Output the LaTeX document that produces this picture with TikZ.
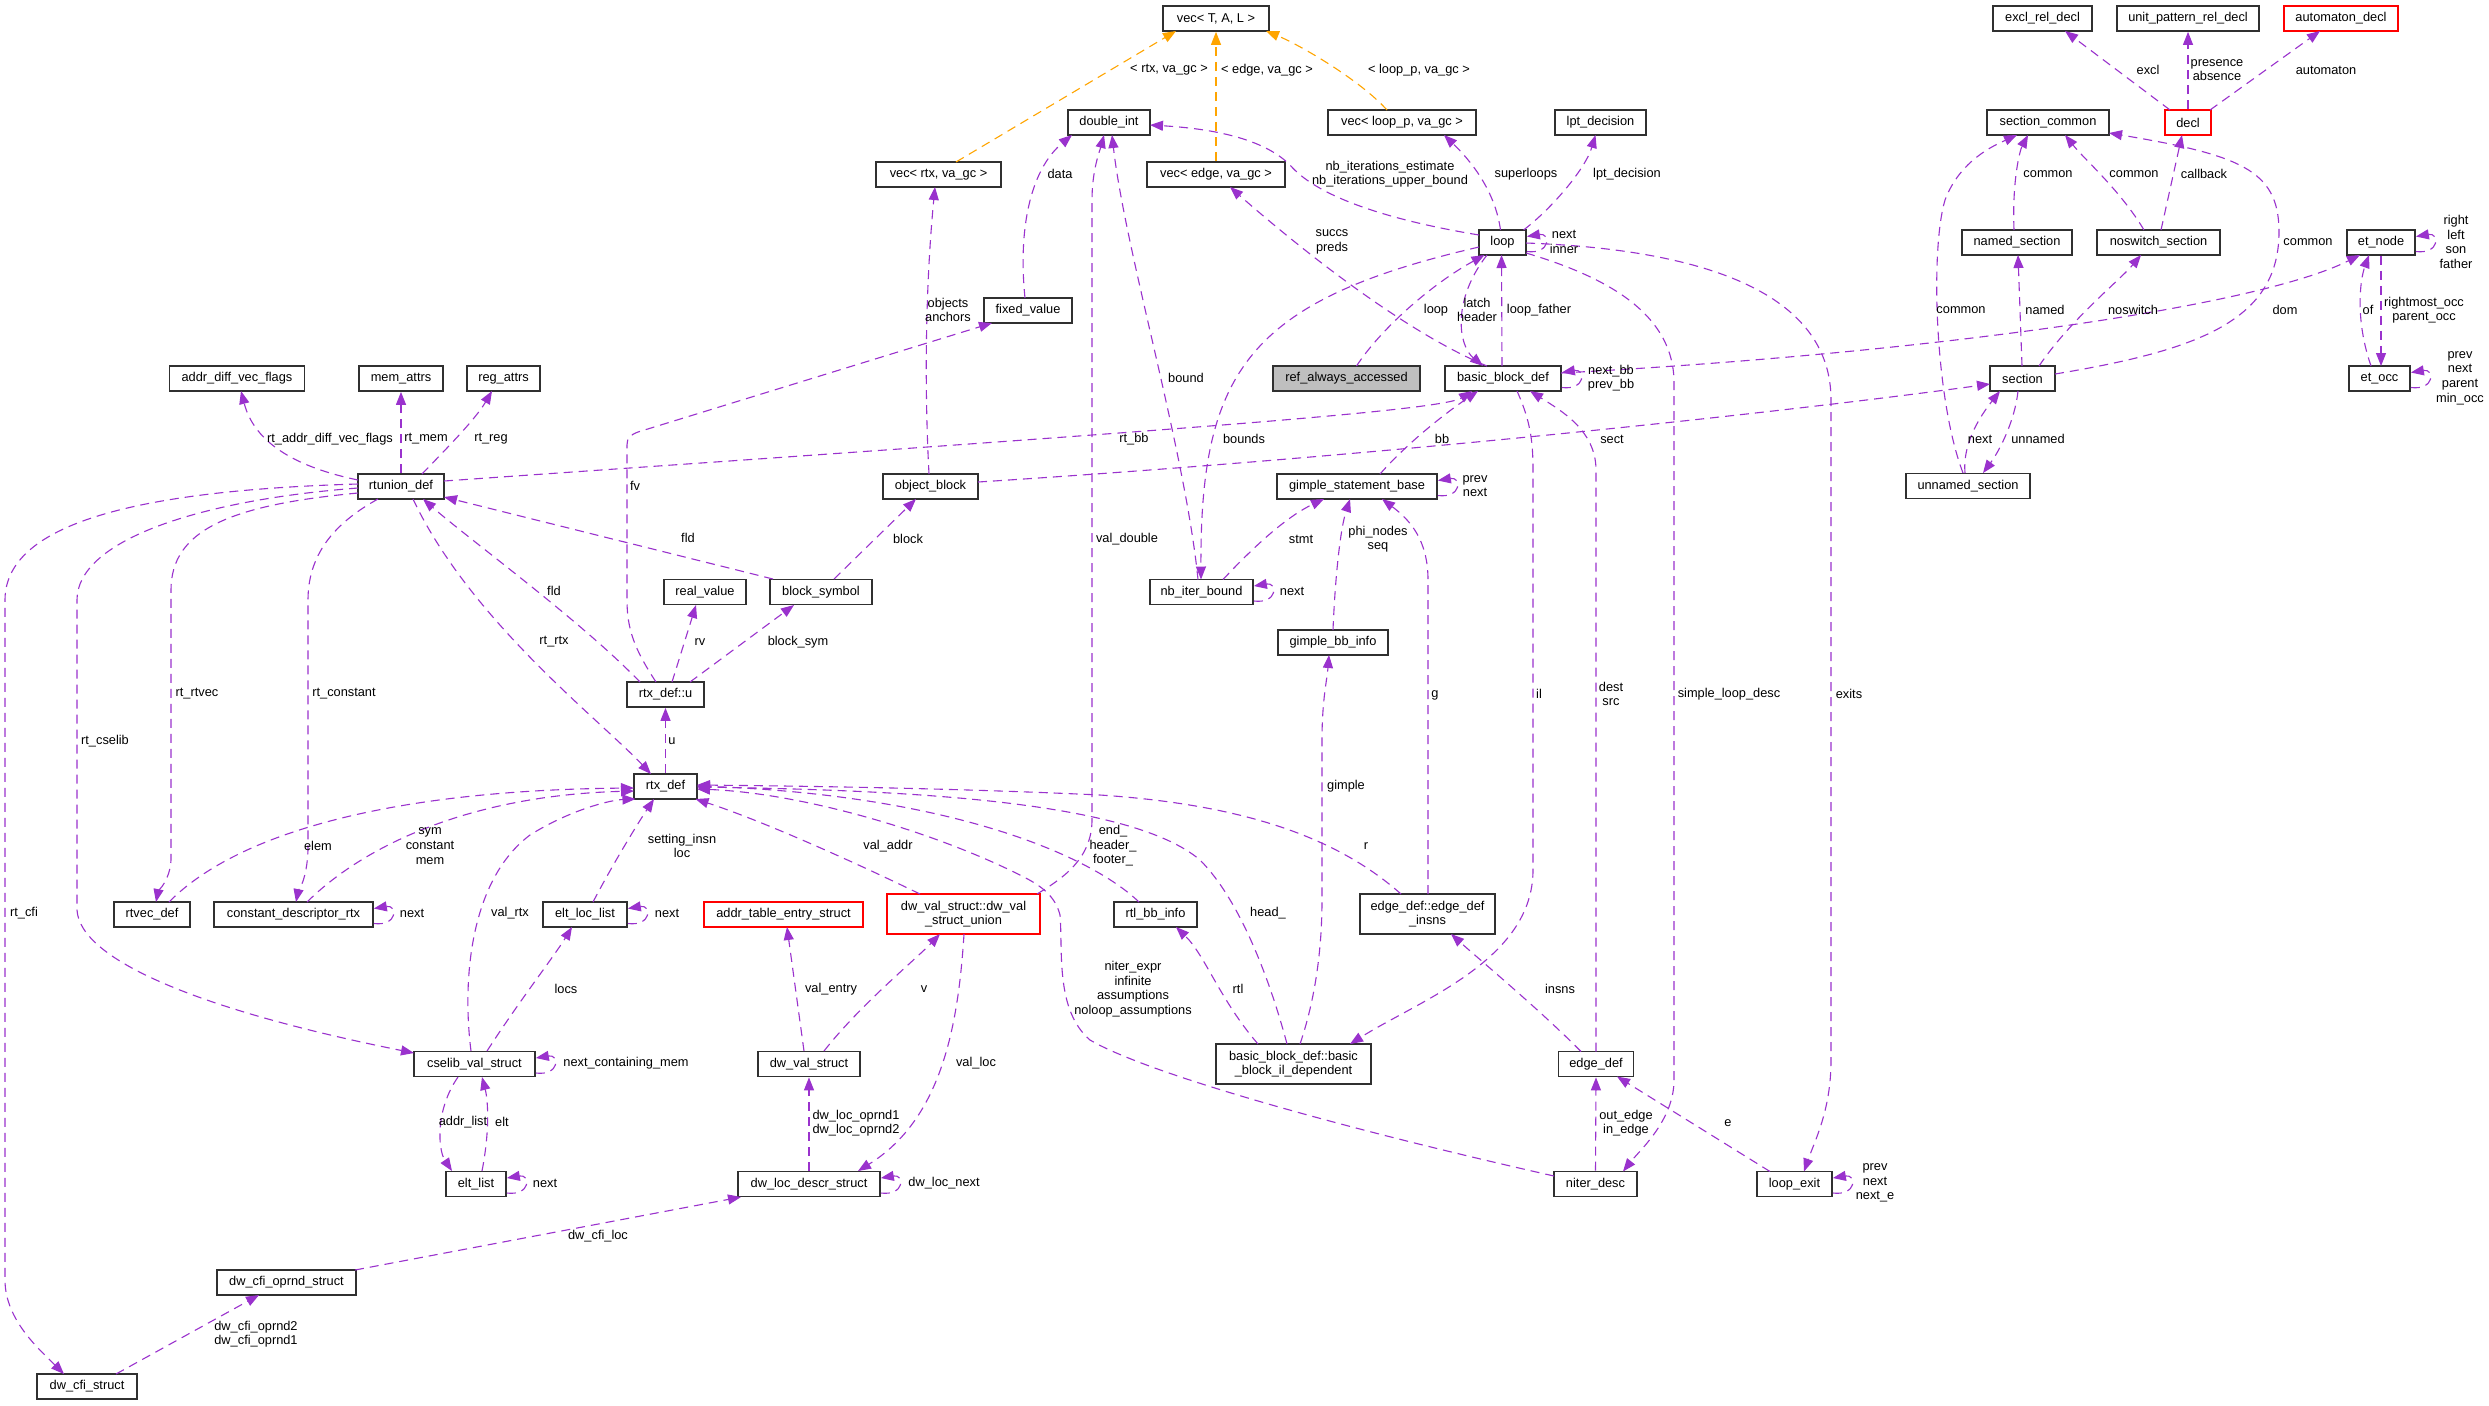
\documentclass[tikz,border=0pt]{standalone}
\usepackage{fontspec}
\setmainfont{Liberation Sans}
\usetikzlibrary{arrows.meta,calc}
\definecolor{purp}{HTML}{9A32CD}
\definecolor{orng}{HTML}{FFA500}
\definecolor{bdr}{HTML}{303030}
\definecolor{redb}{HTML}{FF0000}
\definecolor{grayf}{HTML}{BFBFBF}
\tikzset{
 cls/.style={draw=bdr, fill=white, line width=0.85pt, minimum height=12.5pt, inner sep=0pt, font=\fontsize{6.4}{7.3}\selectfont, align=center},
 wd/.style={minimum width=#1*0.5pt},
 tall/.style={minimum height=20pt},
 redc/.style={draw=redb},
 rel/.style={draw=purp, line width=0.55pt, dash pattern=on 4.5pt off 3pt, -{Triangle[length=6.5pt,width=5pt]}},
 tmpl/.style={rel, draw=orng},
 lbl/.style={font=\fontsize{6.4}{7.3}\selectfont, inner sep=0pt, align=center},
}
\begin{document}
\begin{tikzpicture}[x=0.5pt,y=-0.5pt]
\fill[white] (0,0) rectangle (2489,1405);
\useasboundingbox (0,0) rectangle (2489,1405);
% ---------- nodes ----------
\node[cls,wd=106] (vecT) at (1216,18.5) {vec< T, A, L >};
\node[cls,wd=82] (dint) at (1109,122.5) {double\_int};
\node[cls,wd=148] (veclp) at (1402,122.5) {vec< loop\_p, va\_gc >};
\node[cls,wd=91] (lpt) at (1600.5,122.5) {lpt\_decision};
\node[cls,wd=125] (vecrtx) at (938.5,174.5) {vec< rtx, va\_gc >};
\node[cls,wd=138] (vecedge) at (1216,174.5) {vec< edge, va\_gc >};
\node[cls,wd=88] (fixed) at (1028,310.5) {fixed\_value};
\node[cls,wd=47] (loop) at (1502.5,242.5) {loop};
\node[cls,wd=147,fill=grayf] (ref) at (1346.5,378.5) {ref\_always\_accessed};
\node[cls,wd=116] (bbd) at (1503,378.5) {basic\_block\_def};
\node[cls,wd=99] (excl) at (2042.5,18.5) {excl\_rel\_decl};
\node[cls,wd=142] (unitp) at (2188,18.5) {unit\_pattern\_rel\_decl};
\node[cls,wd=114,redc] (autom) at (2341,18.5) {automaton\_decl};
\node[cls,wd=122] (seccom) at (2048,122.5) {section\_common};
\node[cls,wd=46,redc] (decl) at (2188,122.5) {decl};
\node[cls,wd=110] (named) at (2017,242.5) {named\_section};
\node[cls,wd=123] (noswitch) at (2158.5,242.5) {noswitch\_section};
\node[cls,wd=68] (etnode) at (2381,242.5) {et\_node};
\node[cls,wd=65] (section) at (2022.5,378.5) {section};
\node[cls,wd=61] (etocc) at (2379.5,378.5) {et\_occ};
\node[cls,wd=124] (unnamed) at (1968,486) {unnamed\_section};
\node[cls,wd=135] (addrdiff) at (237,378.5) {addr\_diff\_vec\_flags};
\node[cls,wd=84] (memattrs) at (401,378.5) {mem\_attrs};
\node[cls,wd=73] (regattrs) at (503.5,378.5) {reg\_attrs};
\node[cls,wd=86] (rtunion) at (401,486.5) {rtunion\_def};
\node[cls,wd=82] (realval) at (705,592) {real\_value};
\node[cls,wd=102] (blocksym) at (821,592) {block\_symbol};
\node[cls,wd=77] (rtxu) at (665.5,694.5) {rtx\_def::u};
\node[cls,wd=63] (rtx) at (665.5,786.5) {rtx\_def};
\node[cls,wd=76] (rtvec) at (152,914.5) {rtvec\_def};
\node[cls,wd=159] (constdesc) at (293.5,914.5) {constant\_descriptor\_rtx};
\node[cls,wd=84] (eltloc) at (585,914.5) {elt\_loc\_list};
\node[cls,wd=159,redc] (addrtab) at (783.5,914.5) {addr\_table\_entry\_struct};
\node[cls,wd=95] (objblock) at (930.5,486.5) {object\_block};
\node[cls,wd=160] (gsb) at (1357,486.5) {gimple\_statement\_base};
\node[cls,wd=103] (nbiter) at (1201.5,592) {nb\_iter\_bound};
\node[cls,wd=110] (gbbinfo) at (1333,642.5) {gimple\_bb\_info};
\node[cls,wd=153,tall,redc] (dwunion) at (963.5,914) {dw\_val\_struct::dw\_val\\\_struct\_union};
\node[cls,wd=83] (rtlbb) at (1155.5,914.5) {rtl\_bb\_info};
\node[cls,wd=135,tall] (edgeins) at (1427.5,914) {edge\_def::edge\_def\\\_insns};
\node[cls,wd=121] (cselib) at (474.5,1064) {cselib\_val\_struct};
\node[cls,wd=60] (eltlist) at (476,1184) {elt\_list};
\node[cls,wd=102] (dwval) at (809,1064) {dw\_val\_struct};
\node[cls,wd=142] (dwloc) at (809,1184) {dw\_loc\_descr\_struct};
\node[cls,wd=139] (cfiop) at (286.5,1282.5) {dw\_cfi\_oprnd\_struct};
\node[cls,wd=100] (cfi) at (87,1386.5) {dw\_cfi\_struct};
\node[cls,wd=155,tall] (bbdil) at (1293.5,1064) {basic\_block\_def::basic\\\_block\_il\_dependent};
\node[cls,wd=75] (edgedef) at (1596,1064) {edge\_def};
\node[cls,wd=83] (niter) at (1595.5,1184) {niter\_desc};
\node[cls,wd=75] (loopexit) at (1794.5,1184) {loop\_exit};
% ---------- template edges ----------
\draw[tmpl] ($(vecrtx)+(17.5,-12.5)$) -- ($(vecT)+(-40,12.5)$);
\draw[tmpl] (vecedge.north) -- (vecT.south);
\draw[tmpl] ($(veclp)+(-15,-12.5)$) .. controls (1360,80) and (1300,45) .. ($(vecT)+(50,12.5)$);
% ---------- member edges ----------
\draw[rel] ($(fixed)+(-3,-12.5)$) .. controls (1018,230) and (1030,170) .. ($(dint)+(-37,12.5)$);
\draw[rel] ($(loop)+(-23.5,-7.5)$) .. controls (1400,222) and (1320,200) .. (1290,165) .. controls (1260,135) and (1200,128) .. ($(dint)+(41,2.5)$);
\draw[rel] ($(loop)+(-2,-12.5)$) .. controls (1495,190) and (1470,160) .. ($(veclp)+(42,12.5)$);
\draw[rel] ($(loop)+(21,-12.5)$) .. controls (1550,210) and (1585,170) .. ($(lpt)+(-5,12.5)$);
\draw[rel] ($(bbd)+(-16,-12.5)$) .. controls (1400,330) and (1290,240) .. ($(vecedge)+(14,12.5)$);
\draw[rel] ($(bbd)+(-1,-12.5)$) -- ($(loop)+(-1,12.5)$);
\draw[rel] ($(loop)+(-15.5,12.5)$) .. controls (1452,300) and (1458,345) .. ($(bbd)+(-20,-12.5)$);
\draw[rel] ($(ref)+(10,-12.5)$) .. controls (1380,330) and (1430,285) .. ($(loop)+(-18,12.5)$);
\draw[rel] ($(bbd)+(58,-5.5)$) .. controls (1900,355) and (2250,310) .. ($(etnode)+(-21,12.5)$);
\draw[rel] ($(rtunion)+(43,-5.5)$) .. controls (1100,435) and (1440,412) .. ($(bbd)+(-31,12.5)$);
\draw[rel] ($(objblock)+(47.5,-4.5)$) .. controls (1400,455) and (1800,410) .. ($(section)+(-32.5,5.5)$);
\draw[rel] ($(loop)+(-23.5,4.5)$) .. controls (1250,300) and (1200,370) .. ($(nbiter)+(-0.5,-12.5)$);
\draw[rel] ($(nbiter)+(-3.5,-12.5)$) .. controls (1185,450) and (1125,250) .. ($(dint)+(3,12.5)$);
\draw[rel] ($(nbiter)+(21.5,-12.5)$) .. controls (1260,540) and (1290,515) .. ($(gsb)+(-33,12.5)$);
\draw[rel] ($(gsb)+(23,-12.5)$) .. controls (1410,440) and (1450,410) .. ($(bbd)+(-25,12.5)$);
\draw[rel] ($(gbbinfo)+(0,-12.5)$) .. controls (1335,580) and (1340,530) .. ($(gsb)+(-7,12.5)$);
\draw[rel] ($(edgeins)+(0.5,-20)$) -- (1428,580) .. controls (1428,540) and (1410,520) .. ($(gsb)+(25,12.5)$);
\draw[rel] ($(bbd)+(14,12.5)$) .. controls (1530,420) and (1533,440) .. (1533,470) -- (1533,870) .. controls (1533,960) and (1420,1000) .. ($(bbdil)+(56.5,-20)$);
\draw[rel] ($(edgedef)+(0,-12.5)$) -- (1596,470) .. controls (1596,430) and (1560,410) .. ($(bbd)+(27,12.5)$);
\draw[rel] ($(loop)+(23.5,10.5)$) .. controls (1600,275) and (1672,310) .. (1674,380) -- (1674,1080) .. controls (1674,1120) and (1640,1150) .. ($(niter)+(27.5,-12.5)$);
\draw[rel] ($(loop)+(23.5,0.5)$) .. controls (1720,250) and (1831,300) .. (1831,400) -- (1831,1060) .. controls (1831,1110) and (1815,1140) .. ($(loopexit)+(9.5,-12.5)$);
\draw[rel] ($(niter)+(-41.5,-8)$) .. controls (1350,1130) and (1150,1075) .. (1090,1040) .. controls (1055,1010) and (1063,950) .. (1060,915) .. controls (1055,895) and (1040,885) .. (1020,875) .. controls (930,830) and (800,793) .. ($(rtx)+(31.5,2.5)$);
\draw[rel] ($(bbdil)+(-35.5,-20)$) .. controls (1220,1000) and (1205,955) .. ($(rtlbb)+(20.5,12.5)$);
\draw[rel] ($(bbdil)+(-6.5,-20)$) .. controls (1270,980) and (1240,900) .. (1200,860) .. controls (1130,800) and (900,790) .. ($(rtx)+(31.5,0.5)$);
\draw[rel] ($(bbdil)+(6.5,-20)$) .. controls (1315,1000) and (1322,950) .. (1322,900) -- (1322,740) .. controls (1322,700) and (1327,680) .. ($(gbbinfo)+(-4,12.5)$);
\draw[rel] ($(rtlbb)+(-16.5,-12.5)$) .. controls (1090,855) and (950,795) .. ($(rtx)+(31.5,-0.5)$);
\draw[rel] ($(edgeins)+(-26.5,-20)$) .. controls (1340,840) and (1250,805) .. (1100,795) .. controls (950,788) and (800,786) .. ($(rtx)+(31.5,-1.5)$);
\draw[rel] ($(dwunion)+(-43.5,-20)$) .. controls (850,860) and (760,820) .. ($(rtx)+(30,12.5)$);
\draw[rel] ($(dwunion)+(73.5,-20)$) .. controls (1060,880) and (1092,860) .. (1092,820) -- (1092,200) .. controls (1092,170) and (1100,150) .. ($(dint)+(-5,12.5)$);
\draw[rel] ($(edgedef)+(-15,-12.5)$) .. controls (1540,1010) and (1480,960) .. ($(edgeins)+(23.5,20)$);
\draw[rel] (niter.north) -- (edgedef.south);
\draw[rel] ($(loopexit)+(-24.5,-12.5)$) -- ($(edgedef)+(21,12.5)$);
\draw[rel] ($(rtunion)+(-43,-6.5)$) .. controls (300,468) and (255,445) .. ($(addrdiff)+(4,12.5)$);
\draw[rel] (rtunion.north) -- (memattrs.south);
\draw[rel] ($(rtunion)+(21,-12.5)$) .. controls (445,450) and (475,420) .. ($(regattrs)+(-11.5,12.5)$);
\draw[rel] ($(rtunion)+(12,12.5)$) .. controls (470,620) and (600,720) .. ($(rtx)+(-14.5,-12.5)$);
\draw[rel] ($(rtxu)+(-25.5,-12.5)$) .. controls (580,620) and (470,540) .. ($(rtunion)+(22,12.5)$);
\draw[rel] ($(blocksym)+(-48,-13)$) -- ($(rtunion)+(43,10.5)$);
\draw[rel] ($(rtxu)+(-9.5,-12.5)$) .. controls (635,650) and (627,630) .. (627,600) -- (627,445) .. controls (627,438) and (630,435) .. (638,432) -- ($(fixed)+(-36,12.5)$);
\draw[rel] ($(rtxu)+(6.5,-12.5)$) -- ($(realval)+(-9,13)$);
\draw[rel] ($(rtxu)+(24.5,-12.5)$) -- ($(blocksym)+(-27,13)$);
\draw[rel] ($(blocksym)+(13,-13)$) -- ($(objblock)+(-14.5,12.5)$);
\draw[rel] ($(objblock)+(-1.5,-12.5)$) .. controls (924,380) and (926,280) .. ($(vecrtx)+(-3.5,12.5)$);
\draw[rel] (rtx.north) -- (rtxu.south);
\draw[rel] ($(rtunion)+(-43,6.5)$) .. controls (230,505) and (171,530) .. (171,590) -- (171,860) .. controls (170,880) and (158,892) .. ($(rtvec)+(4,-12.5)$);
\draw[rel] ($(rtunion)+(-23,12.5)$) .. controls (340,520) and (308,550) .. (308,600) -- (308,850) .. controls (307,880) and (298,892) .. ($(constdesc)+(2.5,-12.5)$);
\draw[rel] ($(rtunion)+(-43,1.5)$) .. controls (200,500) and (77,540) .. (77,600) -- (77,910) .. controls (80,960) and (200,1010) .. ($(cselib)+(-60.5,-11)$);
\draw[rel] ($(rtunion)+(-43,-2.5)$) .. controls (150,490) and (5,520) .. (5,600) -- (5,1280) .. controls (5,1320) and (40,1350) .. ($(cfi)+(-23,-12.5)$);
\draw[rel] ($(rtvec)+(17,-12.5)$) .. controls (240,830) and (400,790) .. ($(rtx)+(-31.5,1.5)$);
\draw[rel] ($(constdesc)+(13.5,-12.5)$) .. controls (370,840) and (480,795) .. ($(rtx)+(-31.5,4.5)$);
\draw[rel] ($(eltloc)+(8,-12.5)$) .. controls (615,860) and (640,820) .. ($(rtx)+(-11.5,12.5)$);
\draw[rel] ($(cselib)+(-3.5,-13)$) .. controls (462,980) and (470,880) .. (530,835) .. controls (570,810) and (610,800) .. ($(rtx)+(-30,12.5)$);
\draw[rel] ($(cselib)+(12.5,-13)$) .. controls (520,1000) and (555,955) .. ($(eltloc)+(-13,12.5)$);
\draw[rel] ($(cselib)+(-16.5,13)$) .. controls (435,1110) and (438,1150) .. ($(eltlist)+(-24,-13)$);
\draw[rel] ($(eltlist)+(6,-13)$) .. controls (490,1130) and (488,1100) .. ($(cselib)+(7.5,13)$);
\draw[rel] ($(dwval)+(-5,-13)$) -- ($(addrtab)+(3.5,12.5)$);
\draw[rel] ($(dwval)+(15,-13)$) .. controls (860,1005) and (915,960) .. ($(dwunion)+(-23.5,20)$);
\draw[rel] ($(dwunion)+(0.5,20)$) .. controls (958,1030) and (940,1120) .. ($(dwloc)+(49,-13)$);
\draw[rel] (dwloc.north) -- (dwval.south);
\draw[rel] ($(cfiop)+(68.5,-12.5)$) -- ($(dwloc)+(-68,13)$);
\draw[rel] ($(cfi)+(29,-12.5)$) -- ($(cfiop)+(-27.5,12.5)$);
\draw[rel] ($(decl)+(-18,-12.5)$) -- ($(excl)+(22.5,12.5)$);
\draw[rel] (decl.north) -- (unitp.south);
\draw[rel] ($(decl)+(22,-12.5)$) -- ($(autom)+(-21,12.5)$);
\draw[rel] ($(named)+(-3,-12.5)$) .. controls (2012,180) and (2020,150) .. ($(seccom)+(-20,12.5)$);
\draw[rel] ($(noswitch)+(-14.5,-12.5)$) .. controls (2120,190) and (2085,160) .. ($(seccom)+(17,12.5)$);
\draw[rel] ($(noswitch)+(2.5,-12.5)$) -- ($(decl)+(-6,12.5)$);
\draw[rel] ($(section)+(32.5,-4.5)$) .. controls (2200,350) and (2280,320) .. (2279,230) .. controls (2278,170) and (2240,155) .. ($(seccom)+(61,10.5)$);
\draw[rel] ($(unnamed)+(-5,-13)$) .. controls (1935,400) and (1930,250) .. (1945,200) .. controls (1960,160) and (1995,145) .. ($(seccom)+(-31,12.5)$);
\draw[rel] ($(section)+(-0.5,-12.5)$) -- ($(named)+(1,12.5)$);
\draw[rel] ($(section)+(16.5,-12.5)$) .. controls (2070,320) and (2120,280) .. ($(noswitch)+(-17.5,12.5)$);
\draw[rel] ($(unnamed)+(-3,-13)$) .. controls (1962,440) and (1985,410) .. ($(section)+(-22.5,12.5)$);
\draw[rel] ($(section)+(-4.5,12.5)$) .. controls (2015,420) and (2000,450) .. ($(unnamed)+(15,-13)$);
\draw[rel] ($(etocc)+(-8.5,-12.5)$) .. controls (2355,320) and (2360,280) .. ($(etnode)+(-12,12.5)$);
\draw[rel] (etnode.south) -- ($(etocc)+(1.5,-12.5)$);
% self loops
\foreach \n in {loop,bbd,nbiter,gsb,constdesc,eltloc,cselib,eltlist,dwloc,loopexit,etnode,etocc}
  \draw[rel] ($(\n.east)+(0,9)$) .. controls ($(\n.east)+(24,12)$) and ($(\n.east)+(24,-10)$) .. ($(\n.east)+(0,-6)$);
% ---------- labels ----------
\node[lbl] (t1) at (1169,70) {< rtx, va\_gc >};
\node[lbl] (t2) at (1267,70) {< edge, va\_gc >};
\node[lbl] (t3) at (1419,70) {< loop\_p, va\_gc >};
\node[lbl] (t4) at (1060,174) {data};
\node[lbl] (t5) at (1390,174) {nb\_iterations\_estimate\\nb\_iterations\_upper\_bound};
\node[lbl] (t6) at (1526,174) {superloops};
\node[lbl] (t7) at (1627,174) {lpt\_decision};
\node[lbl] (t8) at (1564,242) {next\\inner};
\node[lbl] (t9) at (1332,242) {succs\\preds};
\node[lbl] (t10) at (948,310) {objects\\anchors};
\node[lbl] (t11) at (1436,310) {loop};
\node[lbl] (t12) at (1477,310) {latch\\header};
\node[lbl] (t13) at (1539,310) {loop\_father};
\node[lbl] (t14) at (1186,378) {bound};
\node[lbl] (t15) at (1611,378) {next\_bb\\prev\_bb};
\node[lbl] (t16) at (1134,439) {rt\_bb};
\node[lbl] (t17) at (1244,439) {bounds};
\node[lbl] (t18) at (1442,439) {bb};
\node[lbl] (t19) at (1612,439) {sect};
\node[lbl] (t20) at (2148,70) {excl};
\node[lbl] (t21) at (2217,70) {presence\\absence};
\node[lbl] (t22) at (2326,70) {automaton};
\node[lbl] (t23) at (2048,174) {common};
\node[lbl] (t24) at (2134,174) {common};
\node[lbl] (t25) at (2204,174) {callback};
\node[lbl] (t26) at (2308,242) {common};
\node[lbl] (t27) at (2456,242) {right\\left\\son\\father};
\node[lbl] (t28) at (1961,310) {common};
\node[lbl] (t29) at (2045,310) {named};
\node[lbl] (t30) at (2133,310) {noswitch};
\node[lbl] (t31) at (2285,310) {dom};
\node[lbl] (t32) at (2368,310) {of};
\node[lbl] (t33) at (2424,310) {rightmost\_occ\\parent\_occ};
\node[lbl] (t34) at (2460,378) {prev\\next\\parent\\min\_occ};
\node[lbl] (t35) at (1980,439) {next};
\node[lbl] (t36) at (2038,439) {unnamed};
\node[lbl] (t37) at (330,439) {rt\_addr\_diff\_vec\_flags};
\node[lbl] (t38) at (426,439) {rt\_mem};
\node[lbl] (t39) at (491,439) {rt\_reg};
\node[lbl] (t40) at (635,486) {fv};
\node[lbl] (t41) at (688,538) {fld};
\node[lbl] (t42) at (554,591) {fld};
\node[lbl] (t43) at (554,642) {rt\_rtx};
\node[lbl] (t44) at (700,642) {rv};
\node[lbl] (t45) at (798,642) {block\_sym};
\node[lbl] (t46) at (197,694) {rt\_rtvec};
\node[lbl] (t47) at (344,694) {rt\_constant};
\node[lbl] (t48) at (105,741) {rt\_cselib};
\node[lbl] (t49) at (672,741) {u};
\node[lbl] (t50) at (318,846) {elem};
\node[lbl] (t51) at (430,846) {sym\\constant\\mem};
\node[lbl] (t52) at (682,846) {setting\_insn\\loc};
\node[lbl] (t53) at (24,913) {rt\_cfi};
\node[lbl] (t54) at (412,913) {next};
\node[lbl] (t55) at (510,913) {val\_rtx};
\node[lbl] (t56) at (667,913) {next};
\node[lbl] (t57) at (908,539) {block};
\node[lbl] (t58) at (1127,539) {val\_double};
\node[lbl] (t59) at (1301,539) {stmt};
\node[lbl] (t60) at (1378,539) {phi\_nodes\\seq};
\node[lbl] (t61) at (1475,486) {prev\\next};
\node[lbl] (t62) at (1292,591) {next};
\node[lbl] (t63) at (1435,695) {g};
\node[lbl] (t64) at (1539,694) {il};
\node[lbl] (t65) at (1611,694) {dest\\src};
\node[lbl] (t66) at (1729,694) {simple\_loop\_desc};
\node[lbl] (t67) at (1849,694) {exits};
\node[lbl] (t68) at (1346,786) {gimple};
\node[lbl] (t69) at (888,846) {val\_addr};
\node[lbl] (t70) at (1113,846) {end\_\\header\_\\footer\_};
\node[lbl] (t71) at (1366,846) {r};
\node[lbl] (t72) at (1268,913) {head\_};
\node[lbl] (t73) at (566,989) {locs};
\node[lbl] (t74) at (626,1063) {next\_containing\_mem};
\node[lbl] (t75) at (463,1122) {addr\_list};
\node[lbl] (t76) at (502,1122) {elt};
\node[lbl] (t77) at (545,1183) {next};
\node[lbl] (t78) at (598,1236) {dw\_cfi\_loc};
\node[lbl] (t79) at (256,1334) {dw\_cfi\_oprnd2\\dw\_cfi\_oprnd1};
\node[lbl] (t80) at (831,989) {val\_entry};
\node[lbl] (t81) at (924,989) {v};
\node[lbl] (t82) at (1133,989) {niter\_expr\\infinite\\assumptions\\noloop\_assumptions};
\node[lbl] (t83) at (1238,989) {rtl};
\node[lbl] (t84) at (1560,989) {insns};
\node[lbl] (t85) at (976,1063) {val\_loc};
\node[lbl] (t86) at (856,1123) {dw\_loc\_oprnd1\\dw\_loc\_oprnd2};
\node[lbl] (t87) at (944,1183) {dw\_loc\_next};
\node[lbl] (t88) at (1626,1123) {out\_edge\\in\_edge};
\node[lbl] (t89) at (1728,1123) {e};
\node[lbl] (t90) at (1875,1183) {prev\\next\\next\_e};
\end{tikzpicture}
\end{document}
